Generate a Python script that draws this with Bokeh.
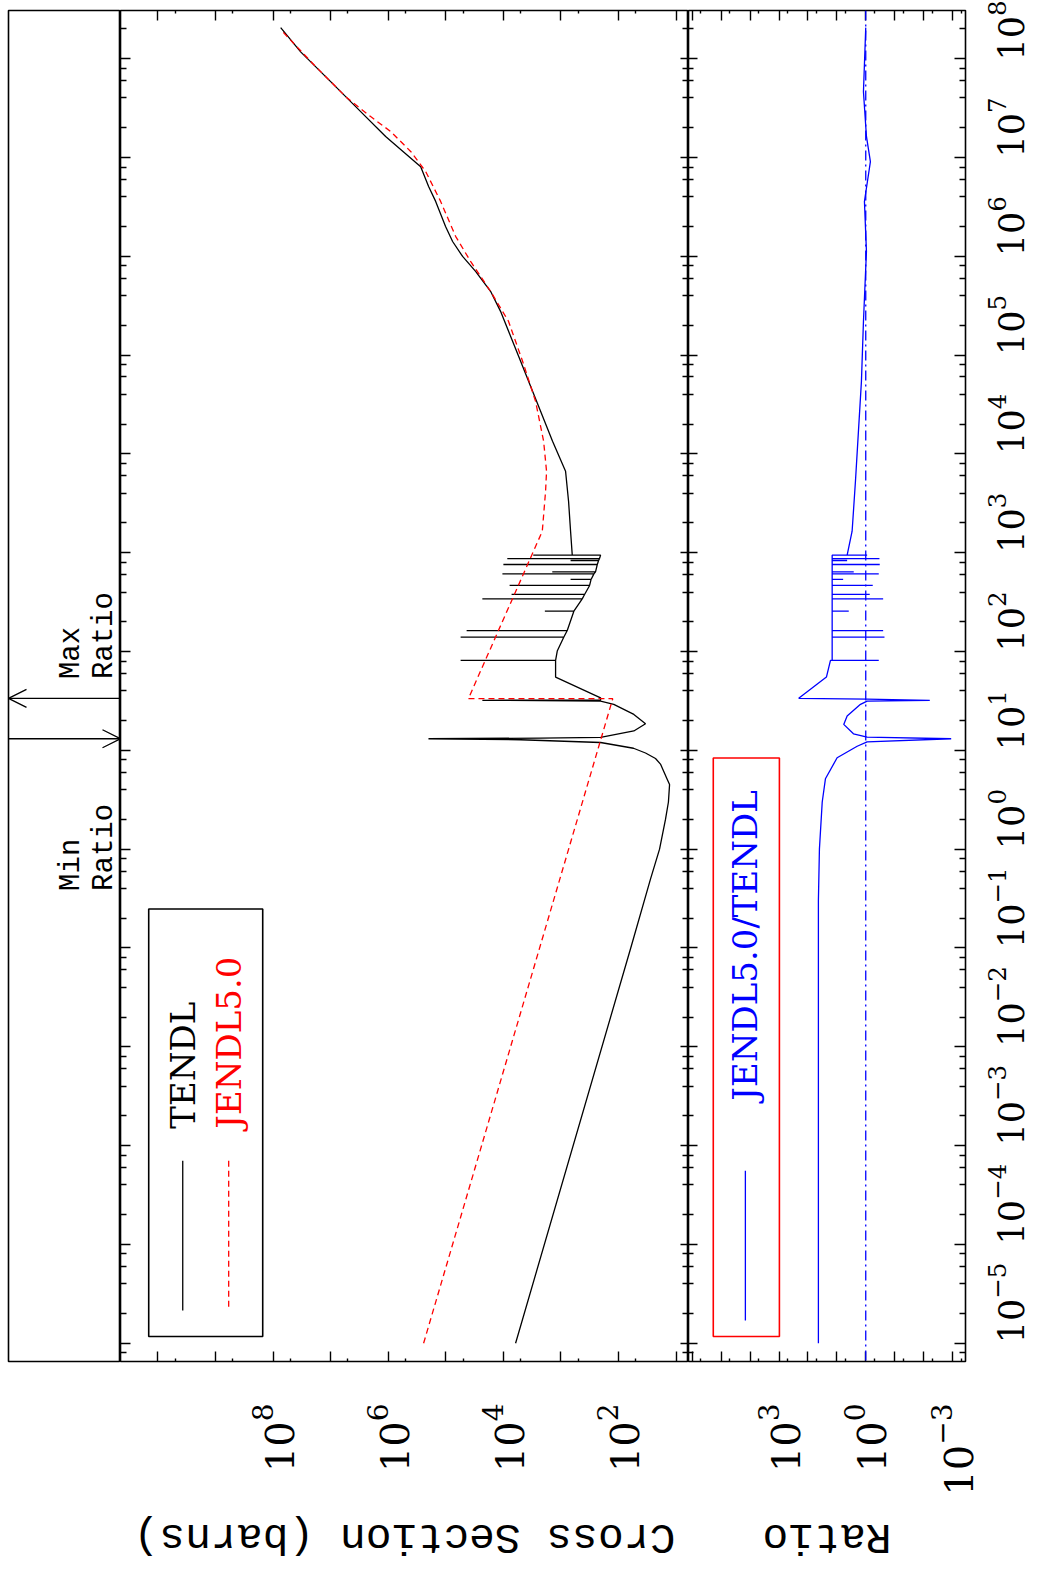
import math
from bokeh.plotting import figure
from bokeh.models import (Range1d, FixedTicker, LogAxis, Label, BoxAnnotation,
                          Arrow, OpenHead, Span, Spacer)
from bokeh.layouts import row, column
from bokeh.embed import file_html
from bokeh.resources import INLINE

# ---------------- data ----------------
tendl_energy = [1e-5, 1e-1, 0.5, 1.0, 2.0, 3.0, 4.5, 5.09, 7.26, 8.26, 9.4, 10.5, 12.0, 12.8, 13.1, 13.3, 13.5,
                15.7, 18.6, 23.1, 29.2, 31.5, 32.1, 32.4, 34.0, 55.1, 79.4,
                81.3, 81.3, 81.3, 101,
                140, 140, 140, 163, 163, 163, 256, 256, 256, 341, 341, 341,
                378, 378, 378, 466, 466, 466, 536, 536, 536, 611, 611, 611,
                640, 640, 640, 760, 760, 760, 834, 834, 834, 873, 873, 873,
                944, 944, 948,
                1650, 3320, 6670, 13400, 27000, 48300, 86500, 1.55e5, 2.77e5, 4.42e5,
                7.04e5, 9.96e5, 1.41e6, 2.0e6, 3.59e6, 5.07e6, 8.07e6, 1.09e7, 1.63e7,
                2.91e7, 5.85e7, 1.17e8, 2.06e8]
tendl_xs = [6140, 61.4, 27.8, 19.4, 15.3, 13.6, 13.0, 14.3, 18.7, 22.8, 34.0, 55, 205, 5010, 2.0e5, 2260, 205,
            54.2, 34.0, 54.2, 121, 205, 23200, 205, 205, 1240, 1240,
            1240, 55300, 1240, 1160,
            891, 55300, 891, 778, 43500, 778, 597, 1905, 597, 427, 23200, 427,
            389, 7210, 389, 318, 7800, 318, 300, 681, 300, 268, 10400, 268,
            251, 1416, 251, 234, 10000, 234, 222, 681, 222, 214, 8550, 214,
            205, 3030, 637,
            681, 738, 832, 1400, 2260, 3370, 5020, 7500, 11200, 16700,
            30400, 51100, 76200, 1.01e5, 1.5e5, 1.99e5, 2.73e5, 4.99e5, 1.11e6,
            3.01e6, 1.0e7, 3.32e7, 7.38e7]

jendl_energy = [1e-5, 33.3, 33.3, 1650, 4190, 6670, 13400, 34000, 86500, 2.19e5, 4.42e5,
                8.87e5, 1.59e6, 3.59e6, 7.21e6, 1.15e7, 1.83e7, 2.59e7, 4.13e7, 8.3e7, 1.87e8]
jendl_xs = [2.43e5, 126, 40600, 2110, 1850, 1780, 2000, 2760, 4640, 8130, 16700,
            37100, 67600, 1.23e5, 2.24e5, 4.08e5, 9.08e5, 2.02e6, 5.5e6, 1.82e7, 6.81e7]

ratio_energy = [1e-5, 0.3, 1.0, 3.0, 5.15, 8.41, 11.0, 12.2, 13.1, 13.6, 14.7, 18.3, 22.2, 29.2,
                31.5, 32.1, 32.9, 33.6, 55.1, 81.3, 81.3, 81.3,
                140, 140, 140, 163, 163, 163, 256, 256, 256, 341, 341, 341, 378, 378, 378,
                466, 466, 466, 536, 536, 536, 611, 611, 611, 640, 640, 640, 760, 760, 760,
                834, 834, 834, 873, 873, 873, 944, 944, 944,
                1650, 5280, 16900, 54200, 2.19e5, 1.12e6, 3.58e6, 9.08e6, 1.63e7, 4.63e7, 2.06e8]
ratio_values = [43.4, 43.4, 40.0, 32.0, 24.8, 9.77, 1.98, 0.895, 1.11e-3, 0.895, 2.66, 5.77, 4.4, 1.52,
                0.895, 6.1e-3, 0.895, 208, 22.9, 16.6, 0.355, 14.5,
                14.5, 0.225, 14.5, 14.5, 0.25, 14.5, 14.5, 3.87, 14.5, 14.5, 0.25, 14.5, 14.5, 0.727, 14.5,
                14.5, 0.573, 14.5, 14.5, 6.05, 14.5, 14.5, 0.355, 14.5, 14.5, 2.6, 14.5, 14.5, 0.328, 14.5,
                14.5, 4.4, 14.5, 14.5, 0.336, 14.5, 14.5, 0.895, 4.4,
                2.96, 2.27, 1.79, 1.41, 1.2, 0.946, 1.11, 0.69, 0.946, 1.2, 1.0]

max_ratio_energy = 33.6
min_ratio_energy = 13.1

energy_tick_exponents = list(range(-5, 9))
xs_tick_exponents = list(range(1, 11))
xs_label_exponents = [2, 4, 6, 8]
ratio_tick_exponents = list(range(-3, 7))
ratio_label_exponents = [-3, 0, 3]

# ---------------- styling helpers ----------------
FRAME_H = 1351
TOP = 10
BOTTOM = 136
TITLE_H = 76
E_range = Range1d(10 ** -5.185, 10 ** 8.487)
xs_range = Range1d(10 ** 10.65, 10 ** 0.785)
ratio_range = Range1d(10 ** 6.13, 10 ** -3.45)
TICK_FONT = "DejaVu Serif"
LEG_FONT = "DejaVu Serif"
MONO = "Liberation Mono"


def base_fig(fw, x_type, x_range, border_left=0, border_right=0):
    p = figure(frame_width=fw, frame_height=FRAME_H, x_axis_type=x_type, y_axis_type="log",
               x_range=x_range, y_range=E_range, output_backend="svg", toolbar_location=None,
               x_axis_location=None, y_axis_location=None,
               min_border_left=border_left, min_border_right=border_right, min_border_top=TOP,
               min_border_bottom=BOTTOM)
    p.grid.visible = False
    p.outline_line_color = "black"
    p.outline_line_width = 1.6
    p.background_fill_color = "white"
    p.border_fill_color = "white"
    return p


def title_fig(fw, x_range, border_right=0):
    p = figure(frame_width=fw, frame_height=TITLE_H, x_axis_type="log", x_range=x_range,
               y_range=Range1d(0, 1), output_backend="svg", toolbar_location=None,
               x_axis_location=None, y_axis_location=None,
               min_border_left=0, min_border_right=border_right, min_border_top=0,
               min_border_bottom=0)
    p.grid.visible = False
    p.outline_line_color = None
    return p


def make_axis(ticks, minor, tick_len, minor_len, labelled, overrides=None, orient=None, standoff=0,
              font_size="40px"):
    ax = LogAxis(ticker=FixedTicker(ticks=ticks, minor_ticks=minor))
    ax.axis_line_color = None
    ax.major_tick_in = tick_len
    ax.major_tick_out = 0
    ax.minor_tick_in = minor_len
    ax.minor_tick_out = 0
    ax.major_tick_line_width = 1.4
    ax.minor_tick_line_width = 1.4
    ax.major_tick_line_color = "black"
    ax.minor_tick_line_color = "black"
    if labelled:
        ax.major_label_text_font = TICK_FONT
        ax.major_label_text_font_size = font_size
        ax.major_label_text_color = "black"
        ax.major_label_standoff = standoff
        if orient is not None:
            ax.major_label_orientation = orient
        if overrides:
            ax.major_label_overrides = overrides
    else:
        ax.major_label_text_font_size = "1px"
        ax.major_label_text_alpha = 0
        ax.major_label_standoff = 0
    return ax


energy_ticks = [10.0 ** e for e in energy_tick_exponents]
energy_minor = [m * 10.0 ** e for e in range(-6, 9) for m in (2, 4, 6, 8)]
xs_ticks = [10.0 ** e for e in xs_tick_exponents]
xs_minor = [5 * 10.0 ** e for e in range(0, 10)]
ratio_ticks = [10.0 ** e for e in ratio_tick_exponents]
ratio_minor = [5 * 10.0 ** e for e in range(-4, 6)]

# ---------------- panel A: min / max ratio markers ----------------
pa = base_fig(112, "linear", Range1d(0, 1), border_left=8)
pa.add_layout(Arrow(end=OpenHead(size=18, line_width=1.3, line_color="black"),
                    x_start=1, y_start=max_ratio_energy, x_end=0, y_end=max_ratio_energy,
                    line_width=1.3, line_color="black"))
pa.add_layout(Arrow(end=OpenHead(size=18, line_width=1.3, line_color="black"),
                    x_start=0, y_start=min_ratio_energy, x_end=1, y_end=min_ratio_energy,
                    line_width=1.3, line_color="black"))
for txt, xx, yy in [("Max", 0.560, 52.6), ("Ratio", 0.858, 52.6),
                    ("Min", 0.560, 0.378), ("Ratio", 0.858, 0.378)]:
    pa.add_layout(Label(x=xx, y=yy, text=txt, angle=math.pi / 2, text_font=MONO,
                        text_font_size="29px", text_align="left", text_baseline="middle",
                        text_color="black"))

# ---------------- panel B: cross sections ----------------
pb = base_fig(568, "log", xs_range)
pb.line(tendl_xs, tendl_energy, line_color="black", line_width=1.3)
pb.line(jendl_xs, jendl_energy, line_color="red", line_width=1.3, line_dash="6 4")
xs_over = {10.0 ** e: " " for e in xs_tick_exponents if e not in xs_label_exponents}
pb.add_layout(make_axis(xs_ticks, xs_minor, 10, 3, True, xs_over, math.pi / 2, 42), "below")
pb.add_layout(make_axis(xs_ticks, xs_minor, 10, 3, False), "above")
pb.add_layout(make_axis(energy_ticks, energy_minor, 10, 6, False), "left")
pb.add_layout(make_axis(energy_ticks, energy_minor, 8, 6, False), "right")
# legend
pb.add_layout(BoxAnnotation(left=10 ** 10.16, right=10 ** 8.18, bottom=10 ** -4.932, top=10 ** -0.605,
                            fill_color=None, line_color="black", line_alpha=1.0, line_width=1.6))
pb.line([10 ** 9.569, 10 ** 9.569], [10 ** -3.153, 10 ** -4.669], line_color="black", line_width=1.3)
pb.line([10 ** 8.771, 10 ** 8.771], [10 ** -3.153, 10 ** -4.669], line_color="red", line_width=1.3,
        line_dash="6 4")
pb.add_layout(Label(x=10 ** 9.569, y=10 ** -2.829, text="TENDL", angle=math.pi / 2, text_font=LEG_FONT,
                    text_font_size="34px", text_align="left", text_baseline="middle",
                    text_color="black"))
pb.add_layout(Label(x=10 ** 8.771, y=10 ** -2.829, text="JENDL5.0", angle=math.pi / 2, text_font=LEG_FONT,
                    text_font_size="34px", text_align="left", text_baseline="middle",
                    text_color="red"))

# ---------------- panel C: ratio ----------------
pc = base_fig(277, "log", ratio_range, border_right=83)
pc.add_layout(Span(location=1, dimension="height", line_color="blue", line_width=1.3,
                   line_dash="10 4 2 4"))
pc.line(ratio_values, ratio_energy, line_color="blue", line_width=1.3)
r_over = {10.0 ** e: " " for e in ratio_tick_exponents if e not in ratio_label_exponents}
pc.add_layout(make_axis(ratio_ticks, ratio_minor, 10, 3, True, r_over, math.pi / 2, 42), "below")
pc.add_layout(make_axis(ratio_ticks, ratio_minor, 10, 3, False), "above")
pc.add_layout(make_axis(energy_ticks, energy_minor, 9, 5, False), "left")
pc.add_layout(make_axis(energy_ticks, energy_minor, 11, 6, True, None, math.pi / 2, 40,
                        font_size="35px"), "right")
pc.add_layout(BoxAnnotation(left=10 ** 5.273, right=10 ** 2.986, bottom=10 ** -4.932, top=10 ** 0.922,
                            fill_color=None, line_color="red", line_alpha=1.0, line_width=1.6))
pc.line([10 ** 4.163, 10 ** 4.163], [10 ** -3.254, 10 ** -4.771], line_color="blue", line_width=1.3)
pc.add_layout(Label(x=10 ** 4.163, y=10 ** -2.546, text="JENDL5.0/TENDL", angle=math.pi / 2,
                    text_font=LEG_FONT, text_font_size="34px", text_align="left",
                    text_baseline="middle", text_color="blue"))

# ---------------- axis titles row ----------------
tb = title_fig(568, xs_range)
tb.add_layout(Label(x=math.sqrt(xs_range.start * xs_range.end), y=0.5, text="Cross Section (barns)",
                    angle=math.pi, text_font=MONO, text_font_size="43px", text_align="center",
                    text_baseline="middle", text_color="black"))
tc = title_fig(277, ratio_range, border_right=83)
tc.add_layout(Label(x=math.sqrt(ratio_range.start * ratio_range.end), y=0.5, text="Ratio",
                    angle=math.pi, text_font=MONO, text_font_size="43px", text_align="center",
                    text_baseline="middle", text_color="black"))

layout = column(row(pa, pb, pc, spacing=0),
                row(Spacer(width=120, height=TITLE_H), tb, tc, spacing=0),
                spacing=0)
open("out.html", "w").write(file_html(layout, INLINE))
